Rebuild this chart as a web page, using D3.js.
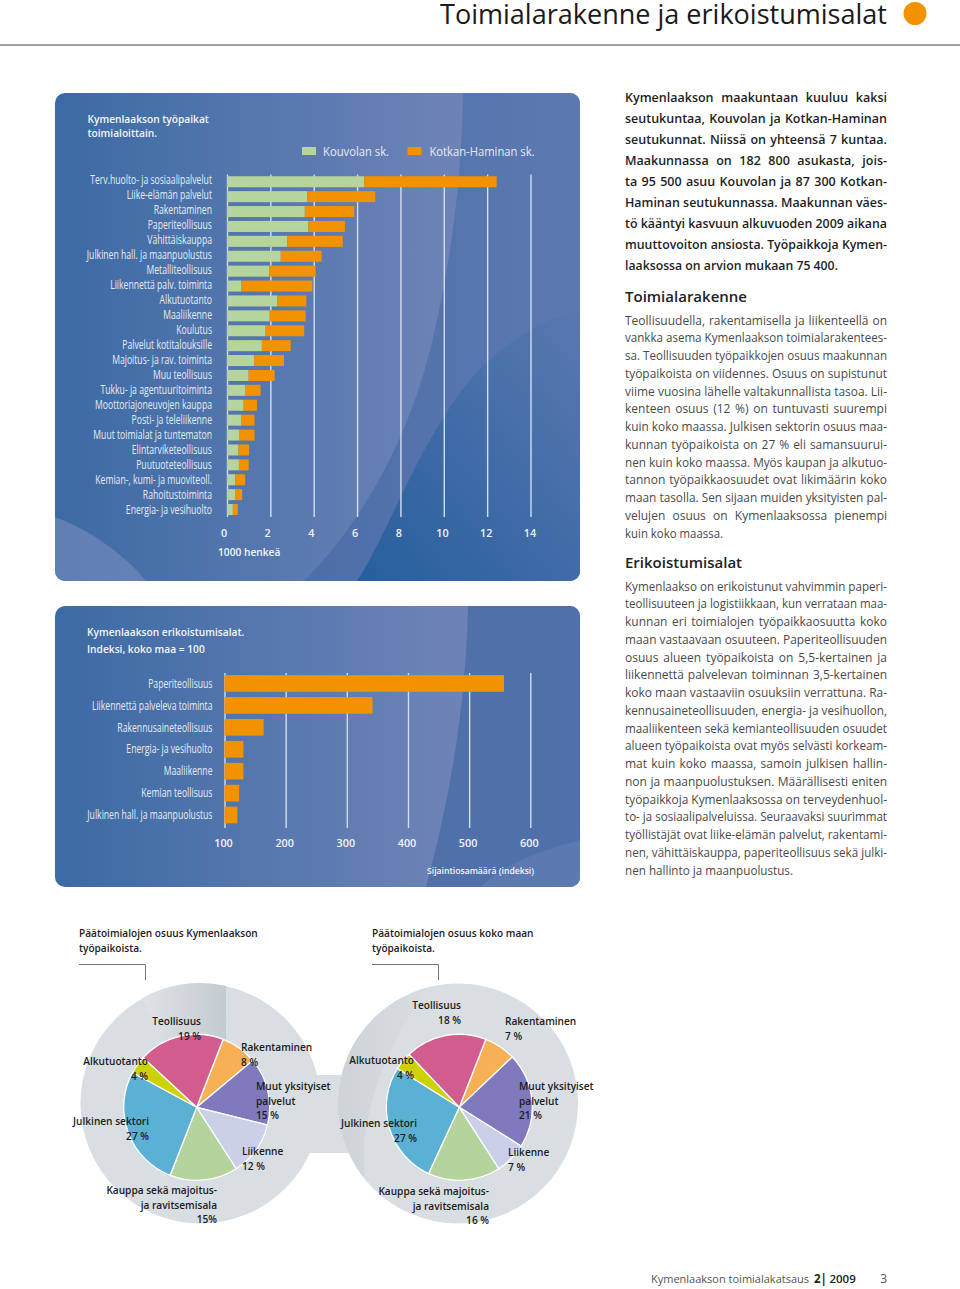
<!DOCTYPE html>
<html lang="fi">
<head>
<meta charset="utf-8">
<title>Toimialarakenne ja erikoistumisalat</title>
<script src="https://cdn.jsdelivr.net/npm/d3@7"></script>
<style>
  html, body { margin: 0; padding: 0; background: #fff; }
  svg { display: block; }
  text { font-family: "Open Sans", sans-serif; }
  .narrow { font-size: 12px; fill: #e6ecf6; }
  .ptitle { font-size: 10.2px; font-weight: 600; fill: #f2f5fa; }
  .pielab { font-size: 10.1px; font-weight: 600; fill: #1c1c1c; }
  .tick text { font-size: 10.8px; font-weight: 600; fill: #f0f4fa; font-family: "Open Sans", sans-serif; }
  .tick line { stroke: #d3deee; stroke-width: 1.4; }
</style>
</head>
<body>
<svg id="page" width="960" height="1289"></svg>
<script>
// työpaikat toimialoittain, 1000 henkeä
const jobCategories = ["Terv.huolto- ja sosiaalipalvelut", "Liike-elämän palvelut", "Rakentaminen", "Paperiteollisuus",
  "Vähittäiskauppa", "Julkinen hall. ja maanpuolustus", "Metalliteollisuus", "Liikennettä palv. toiminta", "Alkutuotanto",
  "Maaliikenne", "Koulutus", "Palvelut kotitalouksille", "Majoitus- ja rav. toiminta", "Muu teollisuus",
  "Tukku- ja agentuuritoiminta", "Moottoriajoneuvojen kauppa", "Posti- ja teleliikenne", "Muut toimialat ja tuntematon",
  "Elintarviketeollisuus", "Puutuoteteollisuus", "Kemian-, kumi- ja muoviteoll.", "Rahoitustoiminta", "Energia- ja vesihuolto"];
const kouvola = [6.33, 3.70, 3.59, 3.75, 2.78, 2.48, 1.95, 0.67, 2.31, 1.97, 1.78, 1.61, 1.25, 1.00, 0.83, 0.77, 0.66, 0.58, 0.53, 0.55, 0.39, 0.37, 0.27];
const kotka = [6.11, 3.14, 2.28, 1.69, 2.56, 1.88, 2.14, 3.27, 1.35, 1.66, 1.78, 1.33, 1.38, 1.20, 0.72, 0.61, 0.61, 0.69, 0.49, 0.45, 0.45, 0.33, 0.23];
const jobTicks = [0, 2, 4, 6, 8, 10, 12, 14];
const seriesNames = ["Kouvolan sk.", "Kotkan-Haminan sk."];

// erikoistumisalat, indeksi
const specCategories = ["Paperiteollisuus", "Liikennettä palveleva toiminta", "Rakennusaineteollisuus", "Energia- ja vesihuolto",
  "Maaliikenne", "Kemian teollisuus", "Julkinen hall. ja maanpuolustus"];
const specValues = [557, 342, 164, 131, 131, 124, 121];
const specTicks = [100, 200, 300, 400, 500, 600];

// piirakat
const pieCategories = ["Rakentaminen", "Muut yksityiset palvelut", "Liikenne", "Kauppa sekä majoitus- ja ravitsemisala", "Julkinen sektori", "Alkutuotanto", "Teollisuus"];
const pieRegion = [8, 15, 12, 15, 27, 4, 19];
const pieCountry = [7, 21, 7, 16, 27, 4, 18];

// tekstit
const intro = ["Kymenlaakson maakuntaan kuuluu kaksi", "seutukuntaa, Kouvolan ja Kotkan-Haminan", "seutukunnat. Niissä on yhteensä 7 kuntaa.",
  "Maakunnassa on 182 800 asukasta, jois-", "ta 95 500 asuu Kouvolan ja 87 300 Kotkan-", "Haminan seutukunnassa. Maakunnan väes-",
  "tö kääntyi kasvuun alkuvuoden 2009 aikana", "muuttovoiton ansiosta. Työpaikkoja Kymen-", "laaksossa on arvion mukaan 75 400."];
const para1 = ["Teollisuudella, rakentamisella ja liikenteellä on", "vankka asema Kymenlaakson toimialarakentees-",
  "sa. Teollisuuden työpaikkojen osuus maakunnan", "työpaikoista on viidennes. Osuus on supistunut", "viime vuosina lähelle valtakunnallista tasoa. Lii-",
  "kenteen osuus (12 %) on tuntuvasti suurempi", "kuin koko maassa. Julkisen sektorin osuus maa-", "kunnan työpaikoista on 27 % eli samansuurui-",
  "nen kuin koko maassa. Myös kaupan ja alkutuo-", "tannon työpaikkaosuudet ovat likimäärin koko", "maan tasolla. Sen sijaan muiden yksityisten pal-",
  "velujen osuus on Kymenlaaksossa pienempi", "kuin koko maassa."];
const para2 = ["Kymenlaakso on erikoistunut vahvimmin paperi-", "teollisuuteen ja logistiikkaan, kun verrataan maa-", "kunnan eri toimialojen työpaikkaosuutta koko",
  "maan vastaavaan osuuteen. Paperiteollisuuden", "osuus alueen työpaikoista on 5,5-kertainen ja", "liikennettä palvelevan toiminnan 3,5-kertainen",
  "koko maan vastaaviin osuuksiin verrattuna. Ra-", "kennusaineteollisuuden, energia- ja vesihuollon,", "maaliikenteen sekä kemianteollisuuden osuudet",
  "alueen työpaikoista ovat myös selvästi korkeam-", "mat kuin koko maassa, samoin julkisen hallin-", "non ja maanpuolustuksen. Määrällisesti eniten",
  "työpaikkoja Kymenlaaksossa on terveydenhuol-", "to- ja sosiaalipalveluissa. Seuraavaksi suurimmat", "työllistäjät ovat liike-elämän palvelut, rakentami-",
  "nen, vähittäiskauppa, paperiteollisuus sekä julki-", "nen hallinto ja maanpuolustus."];

const cfg = {
  orange: "#f39200", green: "#b5d59c",
  pieColors: ["#f7b056", "#7f7abd", "#cbcfe8", "#b4d49c", "#5ab1d4", "#cdd207", "#d25c8d"],
  text: { x: 625, w: 262 },
  squeeze: 0.72   // kapea kirjaintyyppi puuttuu, rivit puristetaan
};

const svg = d3.select("#page");
const defs = svg.append("defs");

// asettaa rivin tasan annettuun leveyteen
function fitLine(sel, target, justify) {
  const len = sel.node().getComputedTextLength();
  if (len > target) {
    sel.attr("textLength", target).attr("lengthAdjust", "spacingAndGlyphs");
  } else if (justify) {
    const gaps = sel.text().split(" ").length - 1;
    if (gaps > 0) sel.style("word-spacing", ((target - len) / gaps) + "px");
  }
  return sel;
}

function squeezeLabels(sel) {
  sel.each(function () {
    this.setAttribute("textLength", this.getComputedTextLength() * cfg.squeeze);
    this.setAttribute("lengthAdjust", "spacingAndGlyphs");
  });
}

function drawHeader() {
  fitLine(svg.append("text").attr("x", 440).attr("y", 24).attr("font-size", 28).attr("fill", "#1a1a1a")
    .text("Toimialarakenne ja erikoistumisalat"), 447, true);
  svg.append("circle").attr("cx", 915).attr("cy", 13.5).attr("r", 11.5).attr("fill", cfg.orange);
  svg.append("line").attr("x1", 0).attr("x2", 960).attr("y1", 45).attr("y2", 45).attr("stroke", "#808080").attr("stroke-width", 1.5);

  const foot = svg.append("g").attr("font-size", 11).attr("fill", "#555");
  fitLine(foot.append("text").attr("x", 651).attr("y", 1283).text("Kymenlaakson toimialakatsaus"), 158, true);
  const issue = foot.append("text").attr("x", 814).attr("y", 1283).attr("font-size", 11.5).attr("fill", "#222");
  issue.append("tspan").attr("font-weight", 700).text("2|");
  issue.append("tspan").attr("dx", 2.5).attr("font-weight", 600).text("2009");
  foot.append("text").attr("x", 887).attr("y", 1283).attr("font-size", 12).attr("text-anchor", "end").text("3");
}

function panel(id, y, h, shapes) {
  const grad = defs.append("linearGradient").attr("id", id + "-bg");
  grad.append("stop").attr("offset", 0).attr("stop-color", "#3c6aa4");
  grad.append("stop").attr("offset", 0.75).attr("stop-color", "#6d83b7");
  grad.append("stop").attr("offset", 1).attr("stop-color", "#6d83b7");
  defs.append("clipPath").attr("id", id + "-clip").append("rect")
    .attr("x", 55).attr("y", y).attr("width", 525).attr("height", h).attr("rx", 10);

  const g = svg.append("g").attr("clip-path", `url(#${id}-clip)`);
  g.append("rect").attr("x", 55).attr("y", y).attr("width", 525).attr("height", h).attr("fill", `url(#${id}-bg)`);
  shapes.forEach(s => g.append("path").attr("d", s.d).attr("fill", s.fill).attr("opacity", s.op || 1));
}

function drawJobsPanel() {
  const rightFade = defs.append("linearGradient").attr("id", "jobs-right");
  rightFade.append("stop").attr("offset", 0).attr("stop-color", "#4c6ea9");
  rightFade.append("stop").attr("offset", 1).attr("stop-color", "#5e79b1");
  const deep = defs.append("linearGradient").attr("id", "jobs-deep").attr("x1", 0).attr("x2", 1).attr("y1", 1).attr("y2", 0);
  deep.append("stop").attr("offset", 0).attr("stop-color", "#265f9d");
  deep.append("stop").attr("offset", 1).attr("stop-color", "#5a78b0");

  panel("jobs", 93, 488, [
    { d: "M463,93 C462,180 450,270 430,350 C405,450 355,530 304,581 L580,581 L580,93 Z", fill: "url(#jobs-right)" },
    { d: "M357,581 C385,540 420,440 470,380 C500,345 540,320 580,310 L580,581 Z", fill: "url(#jobs-deep)" },
    { d: "M55,517 C90,530 125,555 146,581 L55,581 Z", fill: "#6b84b8", op: 0.8 }
  ]);

  const g = svg.append("g");
  const x = d3.scaleLinear().domain([0, 14]).range([227, 530.5]);
  const y = d3.scaleBand().domain(jobCategories).range([174.3, 517]).paddingInner(0.26).paddingOuter(0.13);
  const labelY = d3.scalePoint().domain(jobCategories).range([180, 510]);

  g.append("g").attr("transform", "translate(0,517)")
    .call(d3.axisBottom(x).tickValues(jobTicks).tickSize(-342.5).tickPadding(12))
    .call(a => a.select(".domain").remove())
    .call(a => a.selectAll(".tick text").attr("dx", d => -3.5 + d * 0.17));

  const rows = g.selectAll("g.row").data(jobCategories).enter().append("g").attr("class", "row");
  rows.append("rect").attr("x", x(0)).attr("y", d => y(d)).attr("height", y.bandwidth())
    .attr("width", (d, i) => x(kouvola[i]) - x(0)).attr("fill", cfg.green);
  rows.append("rect").attr("x", (d, i) => x(kouvola[i])).attr("y", d => y(d)).attr("height", y.bandwidth())
    .attr("width", (d, i) => x(kouvola[i] + kotka[i]) - x(kouvola[i])).attr("fill", cfg.orange);
  rows.append("text").attr("class", "narrow").attr("x", 212).attr("y", d => labelY(d))
    .attr("dy", "0.35em").attr("text-anchor", "end").text(d => d).call(squeezeLabels);

  g.append("text").attr("class", "ptitle").attr("x", 87.5).attr("y", 123).text("Kymenlaakson työpaikat");
  g.append("text").attr("class", "ptitle").attr("x", 87.5).attr("y", 137).text("toimialoittain.");
  g.append("text").attr("class", "ptitle").attr("x", 218).attr("y", 556).text("1000 henkeä");

  // selite
  const legend = g.selectAll("g.leg").data(seriesNames).enter().append("g").attr("class", "leg")
    .attr("transform", (d, i) => `translate(${i ? 407.5 : 302},147)`);
  legend.append("rect").attr("width", 14).attr("height", 8).attr("fill", (d, i) => i ? cfg.orange : cfg.green);
  legend.append("text").attr("x", (d, i) => i ? 22 : 21).attr("y", 8.5).attr("font-size", 12)
    .attr("fill", "#e4eaf5").text(d => d)
    .each(function (d, i) { fitLine(d3.select(this), i ? 105 : 66, false); });
}

function drawSpecPanel() {
  panel("spec", 606, 281, [
    { d: "M468,606 C466,700 452,790 426,887 L580,887 L580,606 Z", fill: "#5070aa" },
    { d: "M480,887 C510,860 545,850 580,840 L580,887 Z", fill: "#5d79b1" }
  ]);

  const g = svg.append("g");
  const x = d3.scaleLinear().domain([100, 600]).range([224.5, 530.3]);
  const y = d3.scaleBand().domain(specCategories).range([672.5, 826]).paddingInner(0.24).paddingOuter(0.12);

  g.append("g").attr("transform", "translate(0,828)")
    .call(d3.axisBottom(x).tickValues(specTicks).tickSize(-155).tickPadding(11))
    .call(a => a.select(".domain").remove())
    .call(a => a.selectAll(".tick text").attr("dx", -1.5));

  g.selectAll("rect.spec").data(specValues).enter().append("rect").attr("class", "spec")
    .attr("x", x(100)).attr("y", (d, i) => y(specCategories[i])).attr("height", y.bandwidth())
    .attr("width", d => x(d) - x(100)).attr("fill", cfg.orange);
  g.selectAll("text.lab").data(specCategories).enter().append("text").attr("class", "narrow lab")
    .attr("x", 212.5).attr("y", d => y(d) + y.bandwidth() / 2).attr("dy", "0.35em").attr("text-anchor", "end").text(d => d)
    .call(squeezeLabels);

  g.append("text").attr("class", "ptitle").attr("x", 87).attr("y", 636).text("Kymenlaakson erikoistumisalat.");
  g.append("text").attr("class", "ptitle").attr("x", 87).attr("y", 653).text("Indeksi, koko maa = 100");
  fitLine(g.append("text").attr("class", "ptitle").attr("x", 427).attr("y", 874).style("font-size", "9.5px")
    .text("Sijaintiosamäärä (indeksi)"), 107, true);
}

function drawPie(cx, cy, values, bg, title, titleX, bracket, labels) {
  const g = svg.append("g");
  g.append("circle").attr("cx", bg.x).attr("cy", bg.y).attr("r", 120).attr("fill", "#d9dee2");
  if (bg.wedge) g.append("path").attr("d", bg.wedge).attr("fill", `url(#${bg.fill})`);

  const pie = d3.pie().sort(null).startAngle(21.3 * Math.PI / 180).endAngle((21.3 + 360) * Math.PI / 180);
  const arc = d3.arc().innerRadius(0).outerRadius(73);
  g.append("g").attr("transform", `translate(${cx},${cy})`)
    .selectAll("path").data(pie(values)).enter().append("path").attr("d", arc)
    .attr("fill", (d, i) => cfg.pieColors[i]).attr("stroke", "#fff").attr("stroke-width", 1.3);

  title.forEach((t, i) => g.append("text").attr("class", "pielab").attr("x", titleX).attr("y", 937 + i * 15).text(t));
  g.append("path").attr("d", bracket).attr("fill", "none").attr("stroke", "#777").attr("stroke-width", 1);

  labels.forEach(l => {
    g.append("text").attr("class", "pielab").attr("x", l.x).attr("y", l.y).attr("text-anchor", l.a)
      .selectAll("tspan").data(l.t).enter().append("tspan").attr("x", l.x).attr("dy", (d, i) => i ? 14.7 : 0).text(d => d);
  });
}

function drawPies() {
  // palkki yhdistää taustaympyrät
  svg.append("rect").attr("x", 290).attr("y", 1075).attr("width", 80).attr("height", 78).attr("fill", "#d9dee2");

  const sh1 = defs.append("linearGradient").attr("id", "pie-shade-a");
  sh1.append("stop").attr("offset", 0).attr("stop-color", "#dfe3e6");
  sh1.append("stop").attr("offset", 1).attr("stop-color", "#c3cad0");
  const sh2 = defs.append("linearGradient").attr("id", "pie-shade-b").attr("x1", 1).attr("x2", 0);
  sh2.append("stop").attr("offset", 0).attr("stop-color", "#d9dee2");
  sh2.append("stop").attr("offset", 1).attr("stop-color", "#ced3d8");

  drawPie(196.7, 1107.3, pieRegion, { x: 200.5, y: 1103.5, wedge: "M142,998 A120,120 0 0 1 226,986 L226,1040 L162,1041 Z", fill: "pie-shade-a" },
    ["Päätoimialojen osuus Kymenlaakson", "työpaikoista."], 79, "M79,964.5 H145.5 V980", [
      { x: 201, y: 1025, a: "end", t: ["Teollisuus", "19 %"] },
      { x: 241, y: 1051, a: "start", t: ["Rakentaminen", "8 %"] },
      { x: 148, y: 1065, a: "end", t: ["Alkutuotanto", "4 %"] },
      { x: 256, y: 1090, a: "start", t: ["Muut yksityiset", "palvelut", "15 %"] },
      { x: 149, y: 1125, a: "end", t: ["Julkinen sektori", "27 %"] },
      { x: 242, y: 1155, a: "start", t: ["Liikenne", "12 %"] },
      { x: 217, y: 1194, a: "end", t: ["Kauppa sekä majoitus-", "ja ravitsemisala", "15%"] }
    ]);

  drawPie(459.3, 1107.3, pieCountry, { x: 458, y: 1103.5, wedge: "M364,1140 C372,1085 395,1030 430,987 A120,120 0 0 0 364,1178 Z", fill: "pie-shade-b" },
    ["Päätoimialojen osuus koko maan", "työpaikoista."], 372, "M372,964.5 H438.5 V980", [
      { x: 461, y: 1009, a: "end", t: ["Teollisuus", "18 %"] },
      { x: 505, y: 1025, a: "start", t: ["Rakentaminen", "7 %"] },
      { x: 414, y: 1064, a: "end", t: ["Alkutuotanto", "4 %"] },
      { x: 519, y: 1090, a: "start", t: ["Muut yksityiset", "palvelut", "21 %"] },
      { x: 417, y: 1127, a: "end", t: ["Julkinen sektori", "27 %"] },
      { x: 508, y: 1156, a: "start", t: ["Liikenne", "7 %"] },
      { x: 489, y: 1195, a: "end", t: ["Kauppa sekä majoitus-", "ja ravitsemisala", "16 %"] }
    ]);
}

function drawParagraph(lines, y0, step, size, weight, color, lastW) {
  lines.forEach((t, i) => {
    const last = i === lines.length - 1;
    const line = svg.append("text").attr("x", cfg.text.x).attr("y", y0 + i * step)
      .attr("font-size", size).attr("font-weight", weight).attr("fill", color).text(t);
    fitLine(line, last ? lastW : cfg.text.w, !last);
  });
}

function drawText() {
  drawParagraph(intro, 102, 21, 12.5, 600, "#1f1f1f", 213);
  svg.append("text").attr("x", cfg.text.x).attr("y", 301.5).attr("font-size", 15).attr("font-weight", 600).attr("fill", "#222").text("Toimialarakenne");
  drawParagraph(para1, 324.5, 17.75, 12, 400, "#4a4a4a", 98);
  svg.append("text").attr("x", cfg.text.x).attr("y", 567.5).attr("font-size", 15).attr("font-weight", 600).attr("fill", "#222").text("Erikoistumisalat");
  drawParagraph(para2, 590.5, 17.75, 12, 400, "#4a4a4a", 168);
}

drawHeader();
drawJobsPanel();
drawSpecPanel();
drawPies();
drawText();
</script>
</body>
</html>
